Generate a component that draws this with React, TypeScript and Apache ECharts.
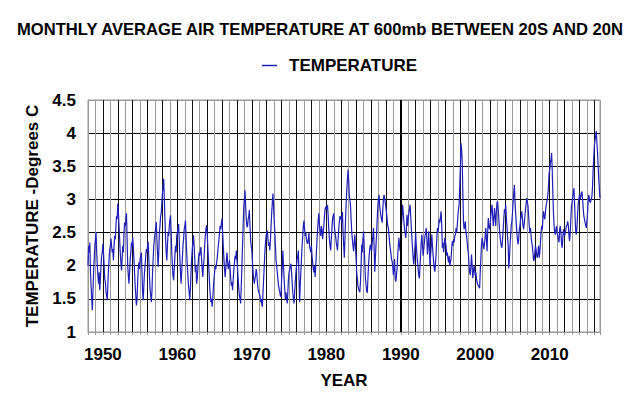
import React, { useEffect, useRef } from "react";
import * as echarts from "echarts";

const START_YEAR = 1948;
const X_MIN = 1948;
const X_MAX = 2016.75;
const HIGHLIGHT_YEAR = 1990;
const TITLE = "MONTHLY AVERAGE AIR TEMPERATURE AT 600mb BETWEEN 20S AND 20N";
const SERIES_NAME = "TEMPERATURE";
const Y_NAME = "TEMPERATURE -Degrees C";
const X_NAME = "YEAR";

// monthly values, Jan 1948 onwards
const t1940s = [
  2.0, 2.3, 2.2, 2.35, 1.9, 1.7, 1.5, 1.33, 1.6, 1.9, 2.1, 2.3,
  2.4, 2.5, 2.2, 2.0, 1.85, 1.73, 1.9, 1.63, 1.8, 2.0, 2.15, 2.2,
];
const t1950s = [
  2.33, 2.2, 2.0, 1.8, 1.75, 1.6, 1.55, 1.48, 1.7, 1.95, 2.1, 2.25,
  2.3, 2.41, 2.3, 2.2, 2.25, 2.08, 2.3, 2.45, 2.4, 2.6, 2.75, 2.7,
  2.94, 2.8, 2.6, 2.4, 2.2, 2.05, 1.93, 2.1, 2.3, 2.2, 2.5, 2.65,
  2.6, 2.7, 2.79, 2.4, 2.0, 1.85, 1.73, 1.9, 2.1, 2.2, 2.35, 2.3,
  2.43, 2.3, 2.1, 1.9, 1.7, 1.55, 1.4, 1.5, 1.75, 1.95, 2.05, 1.95,
  2.1, 2.15, 2.2, 1.9, 1.6, 1.48, 1.7, 1.9, 2.0, 2.15, 2.25, 2.2,
  2.3, 2.36, 2.1, 1.85, 1.65, 1.55, 1.45, 1.6, 1.9, 2.1, 2.3, 2.4,
  2.5, 2.55, 2.66, 2.4, 2.2, 1.98, 2.2, 2.5, 2.6, 2.75, 2.8, 2.95,
  3.1, 3.2, 3.31, 3.0, 2.7, 2.4, 2.2, 2.08, 2.3, 2.5, 2.45, 2.6,
  2.7, 2.76, 2.5, 2.2, 2.0, 1.85, 1.78, 1.95, 2.15, 2.3, 2.2, 2.45,
];
const t1960s = [
  2.5, 2.55, 2.63, 2.4, 2.1, 1.9, 1.73, 1.9, 2.1, 2.3, 2.4, 2.55,
  2.6, 2.68, 2.45, 2.2, 2.0, 1.85, 1.7, 1.6, 1.48, 1.65, 1.9, 2.1,
  2.25, 2.35, 2.46, 2.3, 2.1, 1.9, 2.0, 1.73, 1.8, 1.95, 2.1, 2.2,
  2.15, 2.25, 2.28, 2.1, 1.95, 1.83, 2.0, 2.1, 2.3, 2.45, 2.55, 2.61,
  2.5, 2.3, 2.1, 1.9, 1.7, 1.55, 1.45, 1.5, 1.38, 1.5, 1.65, 1.8,
  1.9, 2.0, 1.95, 2.03, 2.1, 2.2, 2.3, 2.4, 2.5, 2.6, 2.55, 2.65,
  2.71, 2.5, 2.3, 2.1, 1.95, 1.83, 1.95, 2.1, 2.2, 2.05, 1.95, 2.0,
  2.08, 1.95, 1.8, 1.7, 1.75, 1.63, 1.8, 1.95, 2.05, 2.15, 2.1, 2.23,
  2.1, 1.95, 1.8, 1.65, 1.55, 1.5, 1.43, 1.7, 2.0, 2.3, 2.6, 2.9,
  3.0, 3.14, 2.9, 2.7, 2.6, 2.58, 2.7, 2.75, 2.84, 2.6, 2.4, 2.3,
];
const t1970s = [
  2.23, 2.05, 1.9, 1.8, 1.73, 1.8, 1.85, 1.95, 1.88, 1.75, 1.65, 1.6,
  1.58, 1.55, 1.45, 1.5, 1.42, 1.38, 1.6, 1.8, 2.0, 2.2, 2.35, 2.45,
  2.5, 2.53, 2.4, 2.3, 2.35, 2.23, 2.4, 2.6, 2.8, 2.95, 3.09, 2.9,
  2.7, 2.5, 2.3, 2.08, 2.0, 1.9, 1.8, 1.7, 1.65, 1.6, 1.55, 1.53,
  1.8, 2.0, 2.23, 2.0, 1.8, 1.65, 1.5, 1.6, 1.5, 1.43, 1.6, 1.8,
  1.9, 1.95, 2.0, 2.03, 1.9, 1.75, 1.6, 1.5, 1.43, 1.6, 1.75, 1.9,
  2.0, 2.1, 2.15, 2.23, 1.8, 1.45, 1.7, 1.9, 2.1, 2.3, 2.45, 2.6,
  2.68, 2.55, 2.45, 2.5, 2.4, 2.35, 2.33, 2.4, 2.5, 2.3, 2.25, 2.2,
  2.3, 2.15, 2.05, 1.95, 1.9, 2.0, 1.83, 2.0, 2.2, 2.4, 2.55, 2.7,
  2.79, 2.6, 2.5, 2.45, 2.6, 2.55, 2.4, 2.5, 2.6, 2.75, 2.85, 2.89,
];
const t1980s = [
  2.85, 2.9, 2.91, 2.75, 2.55, 2.4, 2.3, 2.23, 2.4, 2.55, 2.7, 2.75,
  2.79, 2.6, 2.5, 2.45, 2.35, 2.3, 2.23, 2.4, 2.55, 2.65, 2.75, 2.7,
  2.75, 2.65, 2.81, 2.5, 2.3, 2.12, 2.4, 2.7, 2.95, 3.15, 3.3, 3.45,
  3.3, 3.07, 3.0, 2.9, 2.7, 2.5, 2.4, 2.3, 2.22, 2.35, 2.47, 2.3,
  2.1, 1.9, 1.8, 1.7, 1.65, 1.62, 1.6, 1.75, 2.0, 2.32, 2.2, 2.4,
  2.52, 2.3, 2.05, 1.81, 1.7, 1.62, 1.59, 1.8, 2.0, 2.15, 2.25, 2.32,
  2.25, 2.22, 2.35, 2.45, 2.57, 2.3, 1.91, 2.1, 2.3, 2.47, 2.7, 2.9,
  3.0, 3.07, 2.9, 2.82, 2.75, 2.7, 2.65, 2.85, 3.0, 3.07, 3.02, 2.95,
  2.87, 2.8, 2.7, 2.6, 2.57, 2.45, 2.35, 2.27, 2.2, 2.1, 2.07, 2.0,
  1.86, 1.95, 2.1, 1.8, 1.76, 1.85, 1.96, 2.15, 2.3, 2.42, 2.3, 2.22,
];
const t1990s = [
  2.4, 2.6, 2.75, 2.92, 2.8, 2.67, 2.55, 2.5, 2.42, 2.55, 2.77, 2.6,
  2.7, 2.8, 2.85, 2.92, 2.75, 2.57, 2.4, 2.25, 2.1, 2.02, 2.15, 2.3,
  2.5, 2.3, 2.17, 2.05, 1.95, 1.85, 1.81, 2.0, 2.2, 2.35, 2.47, 2.3,
  2.15, 2.25, 2.35, 2.45, 2.5, 2.57, 2.4, 2.17, 2.3, 2.52, 2.3, 2.0,
  2.15, 2.3, 2.47, 2.3, 2.17, 2.05, 1.95, 1.91, 2.05, 2.2, 2.4, 2.57,
  2.5, 2.6, 2.7, 2.65, 2.75, 2.82, 2.6, 2.27, 2.35, 2.2, 2.3, 2.42,
  2.42, 2.3, 2.15, 2.2, 2.1, 2.05, 2.15, 2.0, 2.0, 2.1, 2.25, 2.37,
  2.3, 2.4, 2.35, 2.45, 2.47, 2.57, 2.5, 2.6, 2.75, 2.85, 2.92, 3.2,
  3.5, 3.85, 3.75, 3.57, 3.1, 2.67, 2.55, 2.6, 2.67, 2.5, 2.45, 2.35,
  2.25, 2.17, 2.0, 1.9, 1.86, 2.0, 2.17, 2.0, 1.81, 1.9, 2.0, 1.95,
];
const t2000s = [
  1.85, 1.9, 1.8, 1.75, 1.71, 1.7, 1.68, 1.66, 1.9, 2.1, 2.3, 2.42,
  2.42, 2.3, 2.25, 2.35, 2.45, 2.57, 2.4, 2.22, 2.5, 2.72, 2.6, 2.55,
  2.6, 2.75, 2.85, 2.92, 2.75, 2.6, 2.7, 2.87, 2.75, 2.6, 2.8, 2.95,
  2.97, 2.85, 2.7, 2.55, 2.45, 2.35, 2.3, 2.27, 2.4, 2.55, 2.7, 2.85,
  2.8, 2.92, 2.75, 2.6, 2.45, 2.3, 1.96, 2.1, 2.3, 2.45, 2.6, 2.67,
  2.8, 2.95, 3.1, 3.22, 3.0, 2.8, 2.65, 2.5, 2.4, 2.32, 2.4, 2.55,
  2.6, 2.7, 2.75, 2.82, 2.7, 2.6, 2.55, 2.65, 2.75, 2.85, 2.95, 3.02,
  3.02, 2.9, 2.75, 2.6, 2.5, 2.57, 2.45, 2.35, 2.3, 2.2, 2.07, 2.1,
  2.2, 2.3, 2.25, 2.15, 2.12, 2.2, 2.3, 2.12, 2.2, 2.35, 2.5, 2.6,
  2.55, 2.7, 2.82, 2.75, 2.7, 2.8, 2.9, 2.95, 3.0, 3.07, 3.2, 3.4,
];
const t2010s = [
  3.45, 3.55, 3.6, 3.7, 3.45, 3.1, 2.8, 2.6, 2.5, 2.47, 2.55, 2.6,
  2.5, 2.45, 2.4, 2.35, 2.55, 2.6, 2.5, 2.35, 2.27, 2.4, 2.55, 2.5,
  2.45, 2.5, 2.55, 2.6, 2.62, 2.67, 2.6, 2.45, 2.37, 2.5, 2.7, 2.9,
  2.95, 3.05, 3.1, 3.17, 2.95, 2.7, 2.5, 2.47, 2.6, 2.8, 2.95, 3.0,
  3.07, 3.0, 3.05, 3.1, 3.12, 3.0, 2.85, 2.75, 2.7, 2.65, 2.6, 2.57,
  2.57, 2.8, 3.0, 3.07, 3.0, 2.95, 2.97, 3.0, 3.05, 3.2, 3.45, 3.65,
  3.82, 3.9, 3.95, 4.03, 3.85, 3.72, 3.5, 3.32, 3.15, 3.02,
];

const temps = [...t1940s, ...t1950s, ...t1960s, ...t1970s, ...t1980s, ...t1990s, ...t2000s, ...t2010s];

const FONT = "'Liberation Sans', Arial, sans-serif";

export default function App() {
  const ref = useRef<HTMLDivElement>(null);
  useEffect(() => {
    if (!ref.current) return;
    const chart = echarts.init(ref.current, undefined, { renderer: "svg" });
    const data = temps.map((v, i) => [START_YEAR + i / 12, v]);
    chart.setOption({
      animation: false,
      backgroundColor: "#fff",
      title: {
        text: TITLE,
        left: "center",
        top: 21,
        padding: 0,
        textStyle: { fontFamily: FONT, fontSize: 16.6, fontWeight: "bold", color: "#000" },
      },
      legend: {
        left: 262,
        top: 57,
        padding: 0,
        icon: "rect",
        itemWidth: 15,
        itemHeight: 1.5,
        data: [SERIES_NAME],
        textStyle: { fontFamily: FONT, fontSize: 17, fontWeight: "bold", color: "#000", padding: [0, 0, 0, 7] },
      },
      grid: { left: 88, right: 40, top: 100, bottom: 67, show: true, borderColor: "#999", borderWidth: 1 },
      xAxis: {
        type: "value",
        min: X_MIN,
        max: X_MAX,
        interval: 1,
        name: X_NAME,
        nameLocation: "middle",
        nameGap: 40,
        nameTextStyle: { fontFamily: FONT, fontSize: 17, fontWeight: "bold", color: "#000" },
        axisLine: { show: true, lineStyle: { color: "#999" } },
        axisTick: { show: true, length: 3, inside: false, lineStyle: { color: "#999" } },
        axisLabel: {
          margin: 14,
          fontFamily: FONT,
          fontSize: 17,
          fontWeight: "bold",
          color: "#000",
          formatter: (v: number) => (Math.abs(v % 10) < 1e-6 ? String(Math.round(v)) : ""),
        },
        splitLine: { show: true, lineStyle: { color: ["#111", "#9a9a9a"], width: 1 } },
      },
      yAxis: {
        type: "value",
        min: 1,
        max: 4.5,
        interval: 0.5,
        name: Y_NAME,
        nameLocation: "middle",
        nameRotate: 90,
        nameGap: 47,
        nameTextStyle: { fontFamily: FONT, fontSize: 17, fontWeight: "bold", color: "#000" },
        axisLine: { show: true, lineStyle: { color: "#999" } },
        axisTick: { show: false },
        axisLabel: { margin: 12, fontFamily: FONT, fontSize: 17, fontWeight: "bold", color: "#000" },
        splitLine: {
          show: true,
          lineStyle: { color: ["#999", "#000", "#000", "#000", "#000", "#000", "#000", "#999"], width: 1 },
        },
      },
      series: [
        {
          name: SERIES_NAME,
          type: "line",
          data,
          symbol: "none",
          lineStyle: { color: "#2020b8", width: 1.2 },
          itemStyle: { color: "#2020b8" },
          markLine: {
            silent: true,
            symbol: "none",
            label: { show: false },
            lineStyle: { color: "#000", width: 2, type: "solid" },
            data: [{ xAxis: HIGHLIGHT_YEAR }],
          },
        },
      ],
    });
    return () => chart.dispose();
  }, []);
  return <div ref={ref} style={{ position: "fixed", left: 0, top: 0, width: 640, height: 399 }} />;
}
